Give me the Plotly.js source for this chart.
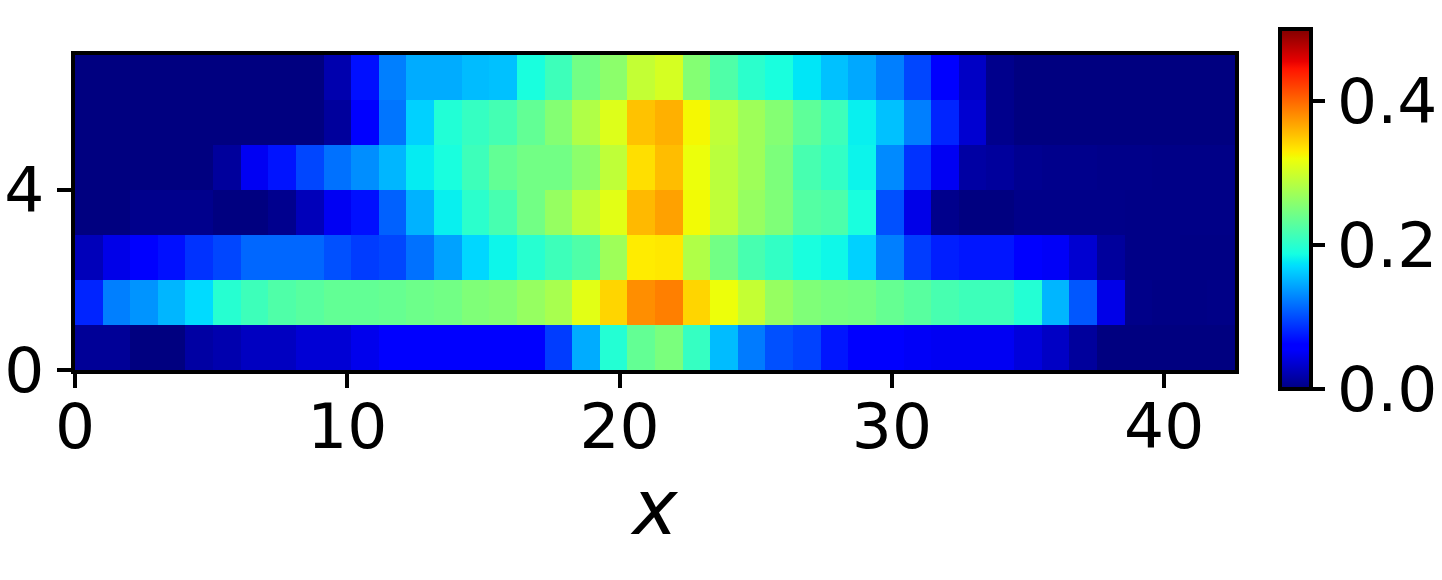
<!DOCTYPE html>
<html>
<head>
<meta charset="utf-8">
<script src="https://cdn.plot.ly/plotly-3.0.1.min.js"></script>
<style>
  html, body { margin: 0; padding: 0; background: #fff; }
</style>
</head>
<body>
<div id="graph1" style="width:1442px;height:580px;"></div>
<script>
// one list per row of cells, bottom row first
let row0 = [.01,.01,0,0,.015,.02,.028,.028,.037,.037,.047,.055,.06,.06,.06,.06,.06,.092,.147,.196,.235,.249,.207,.155,.123,.102,.095,.073,.06,.058,.052,.05,.05,.05,.04,.03,.012,0,0,0,0,0];
let row1 = [.08,.125,.135,.152,.17,.198,.212,.223,.228,.234,.234,.237,.241,.244,.252,.255,.266,.277,.312,.342,.38,.388,.342,.319,.294,.266,.252,.247,.245,.236,.228,.218,.212,.212,.196,.152,.105,.045,.004,.002,.002,.003];
let row2 = [.025,.045,.06,.07,.087,.097,.113,.113,.113,.102,.092,.097,.118,.142,.168,.183,.198,.212,.223,.271,.33,.332,.282,.244,.218,.205,.19,.184,.165,.125,.092,.077,.073,.073,.06,.052,.035,.012,.003,.003,.002,.002];
let row3 = [0,0,.005,.005,.005,0,0,.006,.025,.05,.07,.11,.15,.18,.201,.218,.244,.266,.291,.312,.357,.37,.322,.291,.266,.252,.226,.221,.19,.102,.045,.005,0,0,.004,.004,.004,.004,.003,.003,.003,.003];
let row4 = [0,0,0,0,0,.012,.05,.072,.097,.118,.132,.152,.178,.19,.212,.234,.244,.244,.26,.291,.337,.355,.318,.288,.271,.25,.218,.205,.182,.13,.087,.05,.015,.012,.007,.005,.005,.004,.004,.003,.003,.003];
let row5 = [0,0,0,0,0,0,0,0,0,.012,.06,.12,.165,.195,.207,.216,.234,.255,.282,.309,.352,.362,.324,.291,.271,.255,.232,.212,.18,.157,.125,.08,.035,.005,0,0,0,0,0,0,0,0];
let row6 = [0,0,0,0,0,0,0,0,0,.02,.07,.125,.147,.147,.155,.157,.19,.212,.244,.26,.293,.304,.255,.223,.201,.19,.175,.157,.145,.125,.097,.06,.03,.005,0,0,0,0,0,0,0,0];
let zRows = [row0, row1, row2, row3, row4, row5, row6];

let xTicks = [0, 10, 20, 30, 40];
let yTicks = [0, 4];
let barTicks = [0, 0.2, 0.4];
let barTickText = ['0.0', '0.2', '0.4'];

// matplotlib jet
let jet = [
  [0, 'rgb(0,0,128)'], [.11, 'rgb(0,0,255)'], [.125, 'rgb(0,0,255)'],
  [.34, 'rgb(0,219,255)'], [.35, 'rgb(0,230,247)'], [.375, 'rgb(21,255,226)'],
  [.64, 'rgb(239,255,8)'], [.65, 'rgb(247,246,0)'], [.66, 'rgb(255,236,0)'],
  [.89, 'rgb(255,19,0)'], [.91, 'rgb(232,0,0)'], [1, 'rgb(128,0,0)']
];

let fontName = '"DejaVu Sans", sans-serif';
let xMax = 42.6;
let dx = xMax / 42;

var trace1 = {
  type: 'heatmap',
  z: zRows,
  x0: dx / 2,
  dx: dx,
  y0: 0.5,
  dy: 1,
  zmin: 0,
  zmax: 0.5,
  zsmooth: false,
  colorscale: jet,
  colorbar: {
    x: 1.0385,
    xanchor: 'left',
    xpad: 0,
    ypad: 0,
    y: -0.06,
    yanchor: 'bottom',
    lenmode: 'pixels',
    len: 360,
    thicknessmode: 'pixels',
    thickness: 31,
    outlinewidth: 4,
    outlinecolor: '#000',
    tickmode: 'array',
    tickvals: barTicks,
    ticktext: barTickText,
    ticks: 'outside',
    ticklen: 12,
    tickwidth: 4,
    tickcolor: '#000',
    tickfont: {family: fontName, size: 63, color: '#000'}
  }
};

var layout = {
  width: 1442,
  height: 580,
  margin: {l: 75, r: 207, t: 55, b: 210, autoexpand: false},
  paper_bgcolor: '#fff',
  plot_bgcolor: '#fff',
  font: {family: fontName, color: '#000'},
  xaxis: {
    range: [0, xMax],
    tickmode: 'array',
    tickvals: xTicks,
    ticks: 'outside',
    ticklen: 14,
    tickwidth: 4,
    tickcolor: '#000',
    tickfont: {family: fontName, size: 63, color: '#000'},
    ticklabelstandoff: -16,
    showgrid: false,
    zeroline: false,
    showline: true,
    linewidth: 4,
    linecolor: '#000',
    mirror: true,
    automargin: false,
    title: {text: '<i>x</i>', font: {family: fontName, size: 76, color: '#000'}, standoff: 10}
  },
  yaxis: {
    range: [0, 7],
    tickmode: 'array',
    tickvals: yTicks,
    ticks: 'outside',
    ticklen: 14,
    tickwidth: 4,
    tickcolor: '#000',
    tickfont: {family: fontName, size: 63, color: '#000'},
    showgrid: false,
    zeroline: false,
    showline: true,
    linewidth: 4,
    linecolor: '#000',
    mirror: true,
    automargin: false
  }
};

Plotly.newPlot('graph1', [trace1], layout, {displayModeBar: false});
</script>
</body>
</html>
